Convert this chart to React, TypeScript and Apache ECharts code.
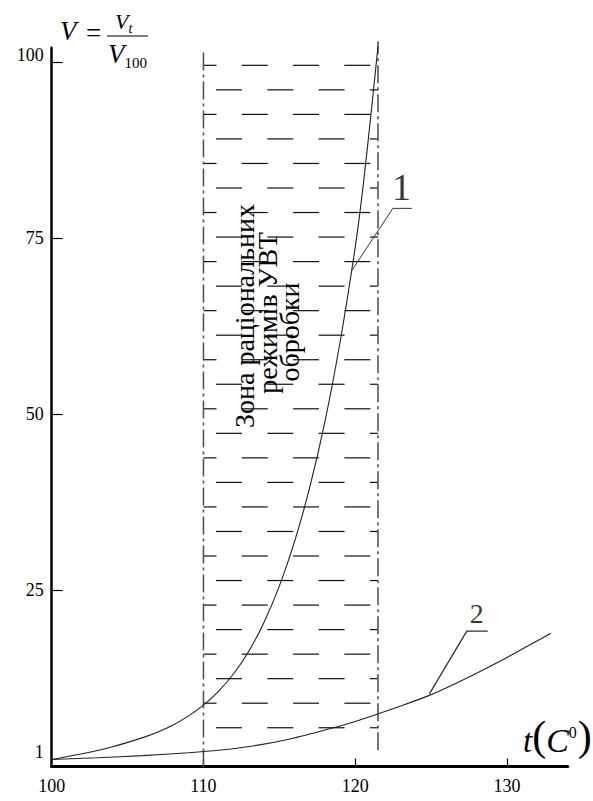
import React, { useEffect, useRef } from "react";
import * as echarts from "echarts";

// ---- data ----
const curve1T = [100, 102, 104, 106, 107, 108, 109, 110, 111, 112, 113, 114, 115, 116, 117, 118, 119, 120, 120.5, 121, 121.5];
const curve1V = [1, 1.8, 2.8, 4.1, 4.9, 5.9, 7.15, 8.7, 10.7, 13.2, 16.4, 20.5, 25.6, 31.9, 39.6, 48.9, 60.2, 73.7, 82, 91.8, 102.2];
const curve2T = [100, 103, 106, 109, 111, 113.5, 115.7, 118.4, 120, 123, 125, 127.4, 129.5, 132.9];
const curve2V = [1, 1.25, 1.55, 1.95, 2.3, 3.0, 3.9, 5.4, 6.4, 8.6, 10.2, 12.6, 14.9, 18.9];
const xTickLabels = [100, 110, 120, 130];
const xTickMarks = [110, 120, 130];
const yTickLabels = [1, 25, 50, 75, 100];
const yRaisedLabels = [1, 100];
const yTickMarks = [25, 50, 75, 100];
const zoneBounds = [110, 121.5];
const zoneLeftSpan = [0, 101.6];
const zoneRightSpan = [2.3, 102.9];
const hatchTop = 99.5;
const hatchBottom = 5.5;
const hatchRows = 28;
const leader1T = [119.78, 122.48, 123.73];
const leader1V = [70.4, 79.2, 79.2];
const leader2T = [124.89, 127.35, 128.73];
const leader2V = [10.3, 19.2, 19.2];
const curveNames = ["1", "2"];
const curveNameT = [123.05, 128.0];
const curveNameV = [79.2, 19.2];
const zoneText = ["Зона раціональних", "режимів УВТ", "обробки"];

const SERIF = "Liberation Serif";

export default function App() {
  const ref = useRef<HTMLDivElement>(null);
  useEffect(() => {
    if (!ref.current) return;
    const chart = echarts.init(ref.current, null, { renderer: "svg" });

    const zip = (a: number[], b: number[]) => a.map((v, i) => [v, b[i]]);

    const hatchRender = (params: any, api: any) => {
      const x0 = api.coord([api.value(0), 0])[0];
      const x1 = api.coord([api.value(1), 0])[0];
      const yTop = api.coord([0, hatchTop])[1];
      const yBot = api.coord([0, hatchBottom])[1];
      const step = (yBot - yTop) / (hatchRows - 1);
      const period = 51.3;
      const dash = 26;
      const children: any[] = [];
      for (let r = 0; r < hatchRows; r++) {
        const y = yTop + r * step;
        const phase = r % 2 === 0 ? -13 : 12.5;
        for (let s = x0 + phase; s < x1; s += period) {
          const a = Math.max(s, x0);
          const b = Math.min(s + dash, x1);
          if (b - a > 1) {
            children.push({
              type: "line",
              shape: { x1: a, y1: y, x2: b, y2: y },
              style: { stroke: "#111", lineWidth: 1.2 },
            });
          }
        }
      }
      return { type: "group", children };
    };

    const serif = (size: number, extra: any = {}) => ({ fontSize: size, fontFamily: SERIF, ...extra });

    const option: any = {
      animation: false,
      backgroundColor: "#fff",
      textStyle: { fontFamily: SERIF },
      grid: { left: 51.7, right: 25.3, top: 47.7, bottom: 34.5, outerBoundsMode: "none" },
      xAxis: {
        type: "value",
        min: 100,
        max: 134,
        axisLine: { show: true, onZero: true, lineStyle: { color: "#000", width: 3 } },
        axisTick: { show: true, inside: true, length: 8, customValues: xTickMarks, lineStyle: { color: "#000", width: 1.2 } },
        axisLabel: { customValues: xTickLabels, margin: 10, fontSize: 18, fontFamily: SERIF, color: "#000" },
        splitLine: { show: false },
      },
      yAxis: {
        type: "value",
        min: 0,
        max: 102,
        axisLine: { show: true, lineStyle: { color: "#000", width: 2.5 } },
        axisTick: { show: true, inside: true, length: 11, customValues: yTickMarks, lineStyle: { color: "#000", width: 1.2 } },
        axisLabel: {
          customValues: yTickLabels,
          margin: 8,
          color: "#000",
          verticalAlign: "middle",
          formatter: (v: number) => (yRaisedLabels.indexOf(v) >= 0 ? `{up|${v}}` : `{n|${v}}`),
          rich: {
            n: serif(18, { lineHeight: 18, color: "#000" }),
            up: serif(18, { lineHeight: 18, color: "#000", padding: [0, 0, 14, 0] }),
          },
        },
        splitLine: { show: false },
      },
      series: [
        {
          type: "custom",
          renderItem: hatchRender,
          data: [zoneBounds],
          clip: false,
          silent: true,
          z: 1,
        },
        {
          type: "line",
          data: [[zoneBounds[0], zoneLeftSpan[0]], [zoneBounds[0], zoneLeftSpan[1]]],
          symbol: "none",
          clip: false,
          lineStyle: { color: "#555", width: 1.6, type: [18, 4, 3, 4] },
          z: 2,
        },
        {
          type: "line",
          data: [[zoneBounds[1], zoneRightSpan[0]], [zoneBounds[1], zoneRightSpan[1]]],
          symbol: "none",
          clip: false,
          lineStyle: { color: "#555", width: 1.6, type: [18, 4, 3, 4] },
          z: 2,
        },
        {
          type: "line",
          data: zip(curve1T, curve1V),
          smooth: 0.3,
          symbol: "none",
          clip: false,
          lineStyle: { color: "#222", width: 1.1 },
          z: 3,
        },
        {
          type: "line",
          data: zip(curve2T, curve2V),
          smooth: 0.3,
          symbol: "none",
          clip: false,
          lineStyle: { color: "#222", width: 1.1 },
          z: 3,
        },
        {
          type: "line",
          data: zip(leader1T, leader1V),
          symbol: "none",
          clip: false,
          lineStyle: { color: "#333", width: 1 },
          z: 3,
        },
        {
          type: "line",
          data: zip(leader2T, leader2V),
          symbol: "none",
          clip: false,
          lineStyle: { color: "#333", width: 1.3 },
          z: 3,
        },
        {
          type: "scatter",
          symbolSize: 0,
          silent: true,
          data: curveNames.map((n, i) => ({
            value: [curveNameT[i], curveNameV[i]],
            label: {
              show: true,
              position: "top",
              distance: i === 0 ? 2 : 4,
              formatter: n,
              fontSize: i === 0 ? 38 : 28,
              fontFamily: SERIF,
              color: "#000",
            },
          })),
          z: 4,
        },
      ],
      graphic: [
        // formula V = Vt / V100
        { type: "text", left: 60, top: 17, style: { text: "V", ...serif(27, { fontStyle: "italic" }), fill: "#000" } },
        { type: "text", left: 86, top: 19, style: { text: "=", ...serif(27), fill: "#000" } },
        {
          type: "text", left: 115, top: 10,
          style: {
            text: "{v|V}{s|t}",
            fill: "#000",
            rich: {
              v: serif(22, { fontStyle: "italic", lineHeight: 22, verticalAlign: "top" }),
              s: serif(14, { fontStyle: "italic", lineHeight: 14, verticalAlign: "top", padding: [11, 0, 0, 0] }),
            },
          },
        },
        { type: "line", shape: { x1: 107, y1: 36, x2: 148, y2: 36 }, style: { stroke: "#000", lineWidth: 1 } },
        {
          type: "text", left: 108, top: 40,
          style: {
            text: "{v|V}{s|100}",
            fill: "#000",
            rich: {
              v: serif(27, { fontStyle: "italic", lineHeight: 27, verticalAlign: "top" }),
              s: serif(15, { lineHeight: 15, verticalAlign: "top", padding: [15, 0, 0, 0] }),
            },
          },
        },
        // axis name t(C0)
        {
          type: "text", x: 523, y: 757,
          style: {
            text: "{t|t}{p|(}{c|C}{s|0}{p|)}",
            fill: "#000",
            verticalAlign: "bottom",
            rich: {
              t: serif(33, { fontStyle: "italic", lineHeight: 33, verticalAlign: "bottom" }),
              p: serif(42, { lineHeight: 42, verticalAlign: "bottom" }),
              c: serif(34, { fontStyle: "italic", lineHeight: 34, verticalAlign: "bottom" }),
              s: serif(16, { lineHeight: 16, verticalAlign: "middle", padding: [0, 1, 8, 0] }),
            },
          },
        },
        // zone text, rotated
        { type: "text", x: 244, y: 316, rotation: Math.PI / 2, style: { text: zoneText[0], ...serif(28), fill: "#000", align: "center", verticalAlign: "middle" } },
        { type: "text", x: 267, y: 313, rotation: Math.PI / 2, style: { text: zoneText[1], ...serif(28), fill: "#000", align: "center", verticalAlign: "middle" } },
        { type: "text", x: 289, y: 332, rotation: Math.PI / 2, style: { text: zoneText[2], ...serif(28), fill: "#000", align: "center", verticalAlign: "middle" } },
      ],
    };
    chart.setOption(option);
    return () => chart.dispose();
  }, []);
  return <div ref={ref} style={{ position: "fixed", left: 0, top: 0, width: 593, height: 801, background: "#fff" }} />;
}
